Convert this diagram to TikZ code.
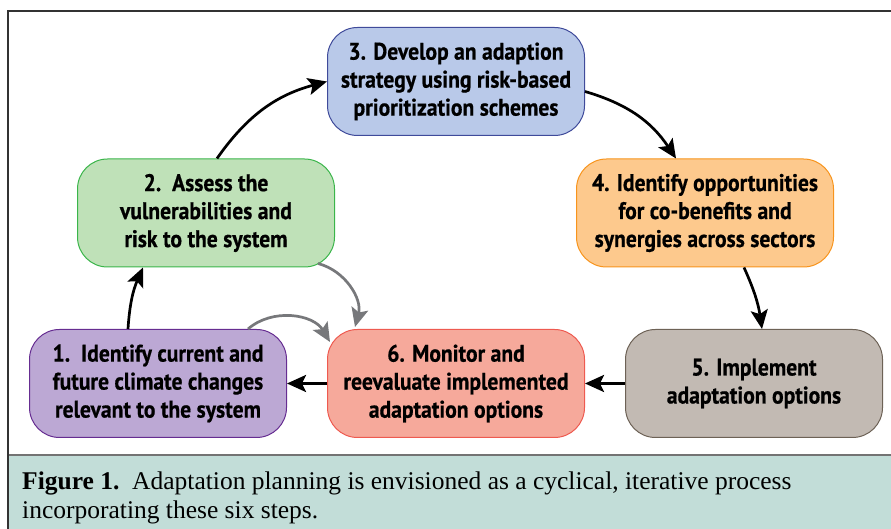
\documentclass[tikz,border=0pt]{standalone}
\usepackage{fontspec}
\setmainfont{Liberation Serif}
\newfontfamily\etapefont[FakeStretch=0.9, BoldFont={PT Sans Bold}, BoldFeatures={FakeBold=0.6}]{PT Sans}
\usetikzlibrary{arrows.meta}

\definecolor{bleu}{HTML}{B9C9E9}   \definecolor{bleuB}{HTML}{3F4A9A}
\definecolor{vert}{HTML}{BFE1B8}   \definecolor{vertB}{HTML}{3AB54A}
\definecolor{orange}{HTML}{FDC98D} \definecolor{orangeB}{HTML}{F7941D}
\definecolor{violet}{HTML}{BCA8D4} \definecolor{violetB}{HTML}{662D91}
\definecolor{rouge}{HTML}{F6A99B}  \definecolor{rougeB}{HTML}{EE5A50}
\definecolor{taupe}{HTML}{C2BAB3}  \definecolor{taupeB}{HTML}{6D6256}
\definecolor{legende}{HTML}{C2DDD8}
\definecolor{grisfleche}{HTML}{77787B}

\tikzset{etape/.style = {draw, rounded corners=30pt, line width=1pt,
                         minimum width=257pt, minimum height=108pt, align=center,
                         font={\etapefont\bfseries\fontsize{24}{28}\selectfont}},
         fleche/.style = {-{Stealth[length=19pt,width=17pt,inset=4pt]}, line width=2.7pt},
         retour/.style = {fleche, draw=grisfleche, color=grisfleche}
        }

\begin{document}
\begin{tikzpicture}[x=1pt,y=1pt]
\useasboundingbox (0,0) rectangle (891,529);
% cadre et legende
\fill[legende] (8,0) rectangle (891,74);
\draw[line width=2pt, black!55] (8,74) -- (891,74);
\draw[line width=1.2pt, black!80] (8,0) -- (8,518) -- (891,518);
\node[anchor=base west, align=left, inner sep=0pt, font=\fontsize{25.5}{29}\selectfont] (leg) at (22,10)
  {\textbf{Figure 1.}\ \ Adaptation planning is envisioned as a cyclical, iterative process\\incorporating these six steps.};

\node[etape, fill=violet, draw=violetB] at (158,145.5) (e1) {1.\ \ Identify current and\\future climate changes\\relevant to the system};
\node[etape, fill=vert, draw=vertB] at (206,316) (e2) {2.\ \ Assess the\\vulnerabilities and\\risk to the system};
\node[etape, fill=bleu, draw=bleuB] at (456,447.5) (e3) {3. Develop an adaption\\strategy using risk-based\\prioritization schemes};
\node[etape, fill=orange, draw=orangeB] at (705,316) (e4) {4. Identify opportunities\\for co-benefits and\\synergies across sectors};
\node[etape, fill=taupe, draw=taupeB] at (754,145.5) (e5) {5. Implement\\adaptation options};
\node[etape, fill=rouge, draw=rougeB] at (456,145.5) (e6) {6. Monitor and\\reevaluate implemented\\adaptation options};

\draw[fleche] ([xshift=-30pt]e1.north) to[bend left=10] ([xshift=-63pt]e2.south);
\draw[fleche] ([xshift=11pt]e2.north) to[bend left=20] (e3.west);
\draw[fleche] ([yshift=-10pt]e3.east) to[bend left=20] ([xshift=-29pt]e4.north);
\draw[fleche] ([xshift=39pt]e4.south) to[bend left=8] ([xshift=8pt]e5.north);
\draw[fleche] (e5.west) -- (e6.east);
\draw[fleche] (e6.west) -- (e1.east);
% retours
\draw[retour] ([xshift=-17pt,yshift=4pt]e2.south east) to[bend left=45] ([xshift=28pt,yshift=2pt]e6.north west);
\draw[retour] ([xshift=90pt]e1.north) to[bend left=50] ([xshift=3pt,yshift=-13pt]e6.north west);
\end{tikzpicture}
\end{document}
